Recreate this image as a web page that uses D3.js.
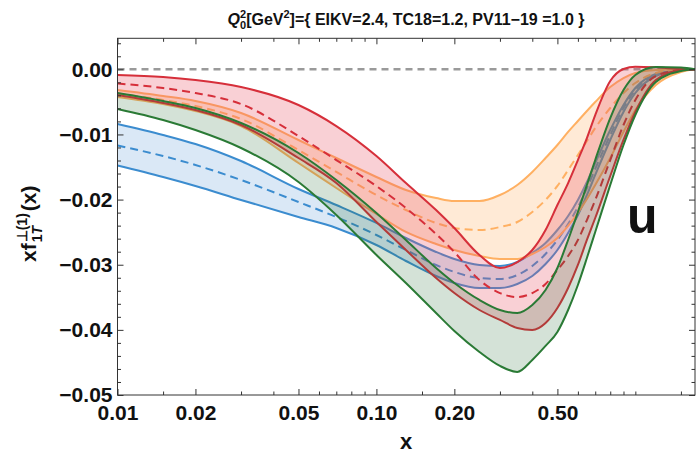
<!DOCTYPE html>
<html><head><meta charset="utf-8">
<script src="https://cdn.jsdelivr.net/npm/d3@7"></script>
<style>
body{margin:0;background:#fff}
svg{display:block}
text{font-family:"Liberation Sans",Arial,Helvetica,sans-serif;font-weight:bold;fill:#111}
</style>
</head><body>
<svg id="c" width="698" height="456"></svg>
<script>
// ---- data ----
const xs = [0.01,0.015,0.02,0.03,0.05,0.07,0.1,0.13,0.17,0.2,0.25,0.3,0.35,0.4,0.45,0.5,0.55,0.6,0.65,0.7,0.8,0.9,1.0,1.2,1.5,1.7];

const redUpper = [-0.00088,-0.00118,-0.00164,-0.00272,-0.00548,-0.00871,-0.01331,-0.01746,-0.0216,-0.02437,-0.02851,-0.03051,-0.02959,-0.02774,-0.02467,-0.02084,-0.01746,-0.01393,-0.01055,-0.00702,-0.0018,0.00005,0.0004,0.0003,0.00005,0];
const redMid = [-0.00218,-0.00287,-0.00364,-0.00533,-0.01024,-0.01393,-0.01792,-0.0213,-0.02529,-0.02805,-0.03235,-0.03435,-0.03496,-0.03435,-0.03296,-0.03081,-0.02867,-0.02621,-0.02314,-0.02007,-0.01393,-0.00855,-0.00471,-0.00103,-0.00011,0];
const redLower = [-0.00395,-0.00517,-0.00625,-0.00855,-0.01362,-0.01745,-0.02344,-0.02774,-0.03204,-0.03434,-0.03695,-0.03848,-0.03971,-0.04002,-0.03894,-0.03664,-0.03357,-0.03004,-0.0262,-0.02283,-0.01638,-0.01085,-0.00655,-0.00164,-0.00011,0];

const orangeUpper = [-0.00318,-0.0041,-0.00487,-0.00671,-0.01085,-0.01362,-0.01653,-0.01853,-0.01976,-0.02022,-0.02022,-0.0193,-0.01776,-0.01576,-0.01362,-0.01162,-0.00962,-0.00794,-0.0064,-0.00502,-0.00272,-0.00134,-0.00057,-0.00011,0,0];
const orangeMid = [-0.00371,-0.00471,-0.00563,-0.00763,-0.01239,-0.01576,-0.0193,-0.0216,-0.02359,-0.02436,-0.02467,-0.02421,-0.02344,-0.0219,-0.02006,-0.01791,-0.01546,-0.01315,-0.01101,-0.00901,-0.00594,-0.00364,-0.0021,-0.00057,-0.00003,0];
const orangeLower = [-0.00425,-0.00533,-0.0064,-0.0087,-0.01438,-0.01822,-0.02221,-0.02497,-0.02682,-0.02774,-0.02866,-0.02912,-0.02912,-0.02835,-0.02728,-0.0259,-0.02405,-0.02206,-0.01991,-0.01776,-0.01362,-0.00962,-0.00625,-0.00241,-0.00041,0];

const blueUpper = [-0.0084,-0.01008,-0.01147,-0.01408,-0.01837,-0.02083,-0.02359,-0.0259,-0.02804,-0.02912,-0.03004,-0.0302,-0.02958,-0.0282,-0.02666,-0.02467,-0.02252,-0.02006,-0.0173,-0.01438,-0.00932,-0.00548,-0.00287,-0.00072,-0.00011,0];
const blueMid = [-0.0117,-0.01331,-0.01469,-0.01699,-0.02037,-0.02267,-0.02544,-0.02774,-0.03004,-0.03111,-0.03204,-0.03219,-0.03158,-0.03019,-0.02835,-0.0262,-0.02375,-0.02114,-0.01822,-0.0153,-0.01008,-0.00594,-0.00318,-0.00087,-0.00011,0];
const blueLower = [-0.01477,-0.01653,-0.01791,-0.02006,-0.02267,-0.02436,-0.02697,-0.02943,-0.03173,-0.0328,-0.03357,-0.03357,-0.03296,-0.03173,-0.02989,-0.02774,-0.02513,-0.02237,-0.0193,-0.01622,-0.01085,-0.00655,-0.00364,-0.00103,-0.00011,0];

const greenUpper = [-0.00364,-0.00487,-0.00594,-0.00824,-0.01285,-0.01699,-0.02206,-0.0262,-0.0305,-0.0328,-0.03541,-0.03695,-0.03741,-0.03618,-0.03388,-0.0305,-0.0262,-0.0219,-0.01776,-0.01392,-0.00748,-0.00318,-0.00087,0.00035,0.00028,0];
const greenLower = [-0.00609,-0.00778,-0.00932,-0.01208,-0.0173,-0.02236,-0.0285,-0.0328,-0.03741,-0.04017,-0.04339,-0.04554,-0.04646,-0.04462,-0.04247,-0.04032,-0.03695,-0.03311,-0.02897,-0.02497,-0.01776,-0.01162,-0.00701,-0.00195,-0.00026,0];

const xMajor = [0.01,0.02,0.05,0.1,0.2,0.5];
const xMajorLabels = ["0.01","0.02","0.05","0.10","0.20","0.50"];
const xMinor = [0.015,0.03,0.04,0.06,0.07,0.08,0.09,0.15,0.3,0.4,0.6,0.7,0.8,0.9,1.0,1.5];
const yMajor = [0,-0.01,-0.02,-0.03,-0.04,-0.05];
const yMinor = [0.004,0.002,-0.002,-0.004,-0.006,-0.008,-0.012,-0.014,-0.016,-0.018,-0.022,-0.024,-0.026,-0.028,-0.032,-0.034,-0.036,-0.038,-0.042,-0.044,-0.046,-0.048];

// ---- layout ----
const L = 117.5, R = 695, T = 38.3, B = 395;
const svg = d3.select("#c");
const x = d3.scaleLog().domain([0.01, 1.7]).range([L, R]);
const y = d3.scaleLinear().domain([-0.05, 0.00476]).range([B, T]);

const bands = [
  {up: blueUpper, mid: blueMid, lo: blueLower, line: "#3b8ccf", fill: "rgb(70,140,210)", op: 0.2},
  {up: orangeUpper, mid: orangeMid, lo: orangeLower, line: "#ffb062", fill: "rgb(255,170,90)", op: 0.25},
  {up: redUpper, mid: redMid, lo: redLower, line: "#d62f3a", fill: "rgb(232,80,100)", op: 0.27},
  {up: greenUpper, mid: null, lo: greenLower, line: "#2a7a35", fill: "rgb(40,110,55)", op: 0.2}
];

const plot = svg.append("g");
plot.append("line").attr("x1", L).attr("x2", R).attr("y1", y(0)).attr("y2", y(0))
  .attr("stroke", "#9a9a9a").attr("stroke-width", 2.5).attr("stroke-dasharray", "7,5");

const curve = d3.curveMonotoneX;
const lineGen = arr => d3.line().curve(curve).x((d, i) => x(xs[i])).y(d => y(d))(arr);
const areaGen = (a, b) => d3.area().curve(curve).x((d, i) => x(xs[i])).y0((d, i) => y(b[i])).y1(d => y(d))(a);

bands.forEach(bd => {
  plot.append("path").attr("d", areaGen(bd.up, bd.lo)).attr("fill", bd.fill).attr("fill-opacity", bd.op).attr("stroke", "none");
  [bd.up, bd.lo].forEach(a => plot.append("path").attr("d", lineGen(a)).attr("fill", "none")
    .attr("stroke", bd.line).attr("stroke-width", 2));
  if (bd.mid) plot.append("path").attr("d", lineGen(bd.mid)).attr("fill", "none")
    .attr("stroke", bd.line).attr("stroke-width", 2).attr("stroke-dasharray", "8,5");
});

// ---- frame & axes ----
const ax = svg.append("g").attr("stroke", "#333").attr("stroke-width", 1);
ax.append("rect").attr("x", L).attr("y", T).attr("width", R - L).attr("height", B - T).attr("fill", "none");

const bottom = d3.axisBottom(x).tickValues(xMajor).tickFormat((d, i) => xMajorLabels[i]).tickSize(-6).tickPadding(10);
const gB = svg.append("g").attr("transform", `translate(0,${B})`).call(bottom);
const gBm = svg.append("g").attr("transform", `translate(0,${B})`).call(d3.axisBottom(x).tickValues(xMinor).tickFormat("").tickSize(-3.5));
const gT = svg.append("g").attr("transform", `translate(0,${T})`).call(d3.axisTop(x).tickValues(xMajor).tickFormat("").tickSize(-6));
const gTm = svg.append("g").attr("transform", `translate(0,${T})`).call(d3.axisTop(x).tickValues(xMinor).tickFormat("").tickSize(-3.5));
const left = d3.axisLeft(y).tickValues(yMajor).tickFormat(d3.format(".2f")).tickSize(-6).tickPadding(5);
const gL = svg.append("g").attr("transform", `translate(${L},0)`).call(left);
const gLm = svg.append("g").attr("transform", `translate(${L},0)`).call(d3.axisLeft(y).tickValues(yMinor).tickFormat("").tickSize(-3.5));
const gR = svg.append("g").attr("transform", `translate(${R},0)`).call(d3.axisRight(y).tickValues(yMajor).tickFormat("").tickSize(-6));
const gRm = svg.append("g").attr("transform", `translate(${R},0)`).call(d3.axisRight(y).tickValues(yMinor).tickFormat("").tickSize(-3.5));
[gB, gBm, gT, gTm, gL, gLm, gR, gRm].forEach(g => {
  g.select(".domain").remove();
  g.selectAll(".tick line").attr("stroke", "#333");
  g.selectAll("text").style("font-size", "21px").style("font-family", '"Liberation Sans",Arial,sans-serif').style("font-weight", "bold").attr("fill", "#111");
});

// ---- title ----
const title = svg.append("text").attr("x", 406).attr("y", 25).attr("text-anchor", "middle").style("font-size", "16px");
title.append("tspan").style("font-style", "italic").text("Q");
title.append("tspan").attr("dy", 4).style("font-size", "11px").text("0");
title.append("tspan").attr("dx", -6.1).attr("dy", -11).style("font-size", "11px").text("2");
title.append("tspan").attr("dy", 7).text("[GeV");
title.append("tspan").attr("dy", -7).style("font-size", "11px").text("2");
title.append("tspan").attr("dy", 7).text("]={ EIKV=2.4, TC18=1.2, PV11\u221219 =1.0 }");

// ---- y label ----
const yl = svg.append("g").attr("transform", "translate(36,262) rotate(-90)");
const p1 = yl.append("text").attr("x", 0).attr("y", 0).style("font-size", "21px").text("xf");
const w1 = p1.node().getComputedTextLength();
const sup = yl.append("text").attr("x", w1 + 1).attr("y", -9).style("font-size", "14px").text("\u22A5(1)");
const sub = yl.append("text").attr("x", w1 + 1).attr("y", 6).style("font-size", "14px");
sub.append("tspan").text("1");
sub.append("tspan").style("font-style", "italic").text("T");
const w2 = Math.max(sup.node().getComputedTextLength(), sub.node().getComputedTextLength());
yl.append("text").attr("x", w1 + w2 + 3).attr("y", 0).style("font-size", "21px").text("(x)");

// ---- x label ----
svg.append("text").attr("x", 406).attr("y", 449).attr("text-anchor", "middle").style("font-size", "22px").text("x");

// ---- flavour label ----
svg.append("text").attr("x", 627).attr("y", 233).style("font-size", "50px").text("u");
</script>
</body></html>
